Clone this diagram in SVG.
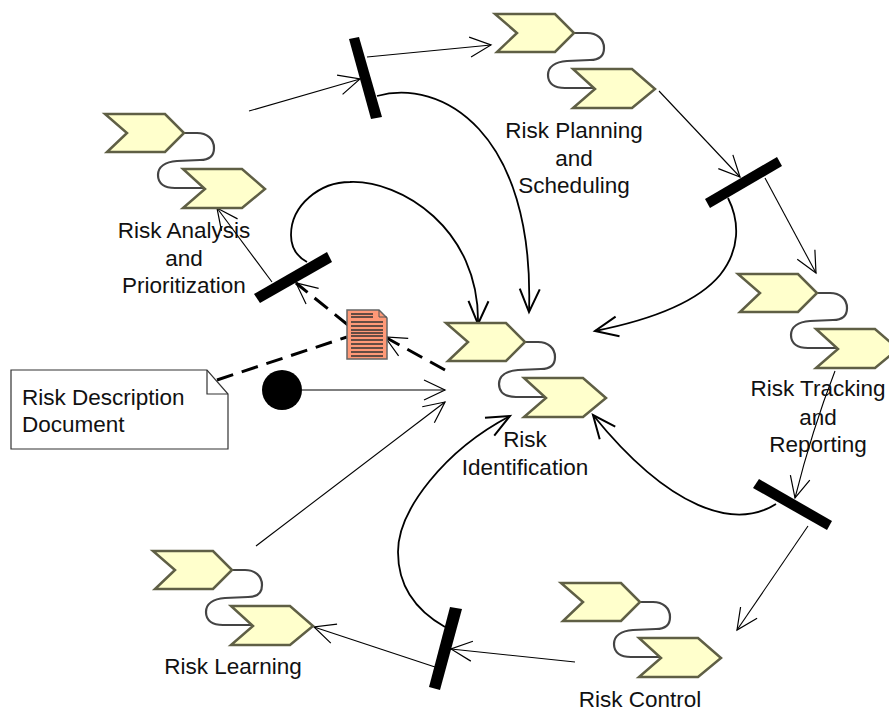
<svg xmlns="http://www.w3.org/2000/svg" width="889" height="711" viewBox="0 0 889 711">
<style>
text{font-family:"Liberation Sans",Arial,sans-serif;font-size:22.5px;fill:#111;text-anchor:middle}
.c{fill:#ffffcc;stroke:#5f5f45;stroke-width:2.5}
.s{fill:none;stroke:#444;stroke-width:2.2}
.l{fill:none;stroke:#000;stroke-width:1.1}
.k{fill:none;stroke:#000;stroke-width:1.8}
.d{fill:none;stroke:#000;stroke-width:3;stroke-dasharray:17 9}
.b{fill:#000;stroke:none}
</style>
<defs>
<g id="proc">
<path class="s" d="M79 19H92C102 19 109 25 109 34C109 43 103 46 95 46L72 47C60 48 53 53 53 61C53 70 60 74 70 74H100"/>
<path class="c" d="M0 0H60L79 19L60 38H2L22 19Z"/>
<path class="c" d="M78 55H137L160 75L137 94H78L100 75Z"/>
</g>
<marker id="o" markerWidth="26" markerHeight="24" refX="23" refY="12" orient="auto" markerUnits="userSpaceOnUse"><path d="M2 2L23 12L2 22" fill="none" stroke="#000" stroke-width="1.2"/></marker>
<marker id="ok" markerWidth="28" markerHeight="26" refX="25" refY="13" orient="auto" markerUnits="userSpaceOnUse"><path d="M2 3L25 13L2 23" fill="none" stroke="#000" stroke-width="2"/></marker>
</defs>
<g id="connectors">
<path class="l" marker-end="url(#o)" d="M249 111L360 79"/>
<path class="l" marker-end="url(#o)" d="M367 57L491 45"/>
<path class="l" marker-end="url(#o)" d="M659 91L740 177"/>
<path class="l" marker-end="url(#o)" d="M765 178L816 273"/>
<path class="l" marker-end="url(#o)" d="M835 371Q812 430 795 498"/>
<path class="l" marker-end="url(#o)" d="M808 526L737 630"/>
<path class="l" marker-end="url(#o)" d="M575 662L451 649"/>
<path class="l" marker-end="url(#o)" d="M435 667L314 627"/>
<path class="l" marker-end="url(#o)" d="M256 546L445 402"/>
<path class="l" marker-end="url(#o)" d="M302 390H445"/>
<path class="l" marker-end="url(#o)" d="M272 282L217 208"/>
<path class="k" d="M307 262C296 256 291 246 291 235C291 205 320 182 350 182C400 180 480 228 478 324" marker-end="url(#ok)"/>
<path class="k" d="M377 96C440 78 535 130 529 312" marker-end="url(#ok)"/>
<path class="k" d="M728 198C740 222 740 250 720 275C695 305 640 322 595 331" marker-end="url(#ok)"/>
<path class="k" d="M776 504C735 530 670 510 593 415" marker-end="url(#ok)"/>
<path class="k" d="M445 627C415 610 398 585 398 552C398 510 445 450 510 416" marker-end="url(#ok)"/>
<path class="d" d="M445 370L385 337" marker-end="url(#o)"/>
<path class="d" d="M348 325L296 283" marker-end="url(#o)"/>
<path class="d" d="M217 380L347 337"/>
</g>
<g id="bar-analysis"><path class="b" d="M254 294L327 252L332 262L260 303Z"/></g>
<g id="bar-planning"><path class="b" d="M349 39L359 37L382 117L371 119Z"/></g>
<g id="bar-scheduling"><path class="b" d="M705 199L777 157L782 166L710 208Z"/></g>
<g id="bar-tracking"><path class="b" d="M759 479L832 521L827 530L753 488Z"/></g>
<g id="bar-control"><path class="b" d="M450 607L462 609L440 690L429 687Z"/></g>
<g id="start"><circle cx="282" cy="390" r="20" fill="#000"/></g>
<g id="risk-analysis"><use href="#proc" x="105" y="114"/><text x="184" y="238">Risk Analysis</text><text x="184" y="266">and</text><text x="184" y="293">Prioritization</text></g>
<g id="risk-planning"><use href="#proc" x="495" y="14"/><text x="574" y="138">Risk Planning</text><text x="574" y="166">and</text><text x="574" y="193">Scheduling</text></g>
<g id="risk-tracking"><use href="#proc" x="738" y="274"/><text x="818" y="396">Risk Tracking</text><text x="818" y="425">and</text><text x="818" y="452">Reporting</text></g>
<g id="risk-identification"><use href="#proc" x="446" y="323"/><text x="525" y="447">Risk</text><text x="525" y="475">Identification</text></g>
<g id="risk-control"><use href="#proc" x="561" y="583"/><text x="640" y="707">Risk Control</text></g>
<g id="risk-learning"><use href="#proc" x="153" y="551"/><text x="233" y="674">Risk Learning</text></g>
<g id="document">
<path d="M347 310H379L387 318V359H347Z" fill="#ff9977" stroke="#666" stroke-width="1.5"/>
<path d="M379 310V317H387" fill="none" stroke="#555"/>
<path d="M351 314H373M351 317H373M351 322H383M351 326H383M351 330H383M351 333H383M351 336H383M351 340H383M351 344H383M351 348H383M351 352H383M351 356H383" stroke="#333" stroke-width="1.3"/>
</g>
<g id="note">
<path d="M11 370H207L228 394V449H11Z" fill="#fff" stroke="#333" stroke-width="1.2"/>
<path d="M207 370V394H228" fill="none" stroke="#333" stroke-width="1.2"/>
<text x="22" y="405" style="text-anchor:start">Risk Description</text>
<text x="22" y="432" style="text-anchor:start">Document</text>
</g>
</svg>
